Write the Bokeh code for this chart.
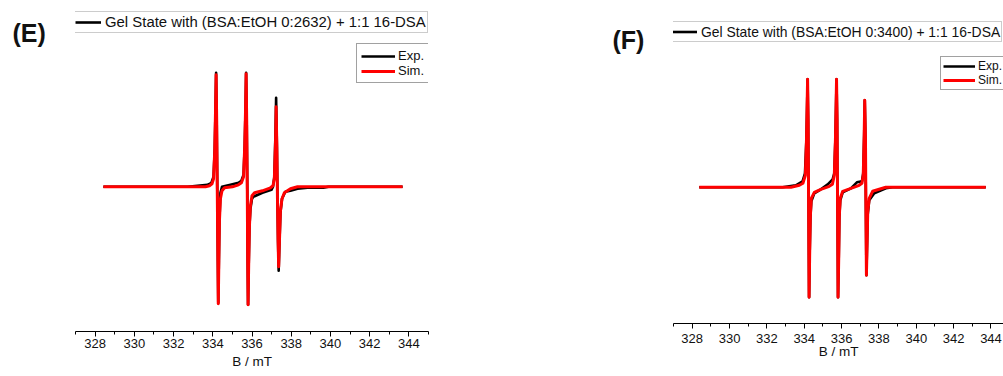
from bokeh.plotting import figure
from bokeh.models import Range1d, SingleIntervalTicker, Legend, LegendItem, Label
from bokeh.layouts import row
from bokeh.embed import file_html
from bokeh.resources import INLINE

FONT = "Liberation Sans"
H = 376          # canvas height
BOTTOM = 45      # shared bottom border (frames are aligned across the row)

# ---------------- data ----------------
axis_title = "B / mT"
legend_exp = "Exp."
legend_sim = "Sim."

# Panel (E)
e_tag = "(E)"
e_sample = "Gel State with (BSA:EtOH 0:2632) + 1:1 16-DSA"
e_exp_b = [328.42, 332.71, 333.73, 333.93, 334.04, 334.10, 334.14, 334.17, 334.20, 334.23,
           334.26, 334.28, 334.31, 334.34, 334.39, 334.47, 334.90, 335.31, 335.46, 335.57,
           335.63, 335.67, 335.70, 335.73, 335.76, 335.78, 335.80, 335.83, 335.87, 335.92,
           336.00, 336.07, 336.53, 336.99, 337.07, 337.14, 337.20, 337.23, 337.27, 337.30,
           337.33, 337.36, 337.40, 337.45, 337.53, 337.70, 337.96, 338.32, 338.83, 339.64,
           339.90, 343.68]
e_exp_i = [0, 0, 2, 4, 10, 38, 78, 114, 66, -4,
           -74, -116, -74, -34, -6, 0, 2, 4, 6, 12,
           42, 78, 114, 66, -4, -74, -118, -80, -40, -22,
           -12, -10, -6, -3, 0, 10, 56, 89, 40, -14,
           -56, -84, -56, -26, -12, -5, -4, -2, -1, -1,
           0, 0]
e_sim_b = [328.42, 332.87, 333.63, 333.83, 333.96, 334.04, 334.10, 334.14, 334.17, 334.20,
           334.23, 334.26, 334.28, 334.31, 334.34, 334.39, 334.47, 334.60, 335.00, 335.31,
           335.46, 335.57, 335.63, 335.67, 335.70, 335.73, 335.76, 335.78, 335.80, 335.83,
           335.87, 335.92, 336.00, 336.13, 336.53, 336.94, 337.07, 337.14, 337.20, 337.23,
           337.27, 337.30, 337.33, 337.36, 337.40, 337.45, 337.53, 337.65, 337.96, 338.32,
           339.49, 343.68]
e_sim_i = [0, 0, 0, 1, 3, 8, 36, 76, 112, 66,
           -4, -74, -117, -74, -34, -12, -4, -1, 0, 2,
           4, 10, 41, 76, 113, 66, -4, -74, -118, -79,
           -39, -19, -9, -6, -4, -1, 1, 8, 46, 80,
           36, -14, -54, -80, -54, -24, -12, -6, -2, 0,
           0, 0]

# Panel (F)
f_tag = "(F)"
f_sample = "Gel State with (BSA:EtOH 0:3400) + 1:1 16-DSA"
f_exp_b = [328.38, 332.84, 333.55, 333.91, 334.04, 334.12, 334.15, 334.18, 334.21, 334.23,
           334.25, 334.26, 334.29, 334.33, 334.38, 334.54, 334.89, 335.26, 335.52, 335.61,
           335.67, 335.70, 335.73, 335.76, 335.78, 335.80, 335.81, 335.85, 335.88, 335.93,
           336.06, 336.50, 336.82, 337.09, 337.16, 337.21, 337.24, 337.28, 337.30, 337.32,
           337.33, 337.37, 337.40, 337.48, 337.75, 338.37, 338.73, 343.72]
f_exp_i = [0, 0, 2, 6, 14, 49, 78, 108, 67, -3,
           -73, -110, -68, -30, -14, -6, -2, 3, 8, 14,
           49, 78, 108, 67, -3, -73, -110, -68, -30, -13,
           -5, -1, 5, 6, 14, 52, 87, 47, -13, -63,
           -88, -53, -27, -13, -6, -1, 0, 0]
f_sim_b = [328.38, 332.84, 333.29, 333.74, 333.93, 334.06, 334.12, 334.15, 334.18, 334.21,
           334.23, 334.25, 334.26, 334.29, 334.33, 334.38, 334.54, 334.89, 335.34, 335.51,
           335.61, 335.67, 335.70, 335.73, 335.76, 335.78, 335.80, 335.81, 335.85, 335.88,
           335.93, 336.06, 336.50, 336.94, 337.09, 337.16, 337.21, 337.24, 337.28, 337.30,
           337.32, 337.33, 337.37, 337.40, 337.48, 337.66, 338.37, 343.72]
f_sim_i = [0, 0, 0, 2, 4, 12, 47, 77, 108, 67,
           -3, -73, -110, -68, -28, -11, -5, -2, 1, 3,
           12, 47, 77, 108, 67, -3, -73, -110, -68, -28,
           -11, -4, -1, 2, 4, 12, 52, 87, 47, -13,
           -63, -88, -53, -25, -11, -4, 0, 0]


def tag_panel(tag, width, tx, ty_from_top):
    frame_h = H - BOTTOM
    t = figure(width=width, height=H, output_backend="svg", toolbar_location=None,
               x_range=Range1d(0, width), y_range=Range1d(H - frame_h, H),
               x_axis_location=None, y_axis_location=None,
               min_border_left=0, min_border_right=0, min_border_top=0,
               min_border_bottom=BOTTOM)
    t.grid.visible = False
    t.outline_line_color = None
    t.add_layout(Label(x=tx, y=H - ty_from_top, text=tag,
                       text_font=FONT, text_font_style="bold", text_font_size="25px",
                       text_align="left", text_baseline="middle", text_color="#111111"))
    return t


def make_panel(sample, exp_b, exp_i, sim_b, sim_i, width, height, mb_left, mb_right,
               x_end, baseline_px, top_box_bottom, top_dx, top_font, top_row, top_glyph_w,
               pair_box_bottom, pair_dx, pair_row, pair_pad, pair_font, pair_glyph_w,
               tick_std, axlab_std):
    frame_h = height - BOTTOM
    p = figure(width=width, height=height, output_backend="svg", toolbar_location=None,
               x_range=Range1d(327, x_end),
               y_range=Range1d(baseline_px - frame_h, baseline_px),
               y_axis_location=None,
               min_border_left=mb_left, min_border_right=mb_right,
               min_border_top=0, min_border_bottom=BOTTOM)
    p.grid.visible = False
    p.outline_line_color = None
    p.background_fill_color = "white"
    p.border_fill_color = "white"

    xa = p.xaxis[0]
    xa.ticker = SingleIntervalTicker(interval=2, num_minor_ticks=2)
    xa.axis_line_color = "black"
    xa.axis_line_width = 1
    xa.major_tick_line_color = "black"
    xa.minor_tick_line_color = "black"
    xa.major_tick_in = 0
    xa.major_tick_out = 5
    xa.minor_tick_in = 0
    xa.minor_tick_out = 3
    xa.major_label_text_font = FONT
    xa.major_label_text_font_size = "13px"
    xa.major_label_text_color = "#111111"
    xa.major_label_standoff = tick_std
    xa.axis_label = axis_title
    xa.axis_label_text_font = FONT
    xa.axis_label_text_font_style = "normal"
    xa.axis_label_text_font_size = "13.5px"
    xa.axis_label_text_color = "#111111"
    xa.axis_label_standoff = axlab_std

    r_exp = p.line(exp_b, exp_i, line_color="black", line_width=2.6, line_join="round")
    r_sim = p.line(sim_b, sim_i, line_color="#ff0000", line_width=3, line_join="round")

    top = Legend(items=[LegendItem(label=sample, renderers=[r_exp])],
                 location=(top_dx, frame_h - top_box_bottom),
                 orientation="vertical", margin=0, padding=1, spacing=0,
                 glyph_width=top_glyph_w, glyph_height=top_row, label_height=top_row,
                 label_standoff=4, label_text_font=FONT, label_text_font_size=top_font,
                 label_text_color="#111111", border_line_color="#9a9a9a",
                 border_line_width=1, background_fill_color="white", background_fill_alpha=1)
    p.add_layout(top)

    pair = Legend(items=[LegendItem(label=legend_exp, renderers=[r_exp]),
                         LegendItem(label=legend_sim, renderers=[r_sim])],
                  location=(pair_dx, frame_h - pair_box_bottom),
                  orientation="vertical", margin=0, padding=pair_pad,
                  spacing=0, glyph_width=pair_glyph_w, glyph_height=pair_row,
                  label_height=pair_row, label_standoff=3, label_text_font=FONT,
                  label_text_font_size=pair_font, label_text_color="#111111",
                  border_line_color="#444444", border_line_width=1,
                  background_fill_color="white", background_fill_alpha=1)
    p.add_layout(pair)
    return p


tE = tag_panel(e_tag, 64, 12, 32.5)
pE = make_panel(e_sample, e_exp_b, e_exp_i, e_sim_b, e_sim_i,
                width=496, height=376, mb_left=11, mb_right=132,
                x_end=345, baseline_px=186.3,
                top_box_bottom=33, top_dx=-2, top_font="14.9px", top_row=18, top_glyph_w=26,
                pair_box_bottom=83, pair_dx=281, pair_row=14, pair_pad=4, pair_font="13px",
                pair_glyph_w=34, tick_std=2, axlab_std=3)

tF = tag_panel(f_tag, 108, 52, 39)
pF = make_panel(f_sample, f_exp_b, f_exp_i, f_sim_b, f_sim_i,
                width=335, height=368, mb_left=5, mb_right=0,
                x_end=344.67, baseline_px=186.8,
                top_box_bottom=42, top_dx=-3, top_font="13.9px", top_row=17, top_glyph_w=25,
                pair_box_bottom=90, pair_dx=267, pair_row=12, pair_pad=2, pair_font="12px",
                pair_glyph_w=32, tick_std=5, axlab_std=-2)

layout = row(tE, pE, tF, pF, spacing=0)

open("out.html", "w").write(file_html(layout, INLINE))
